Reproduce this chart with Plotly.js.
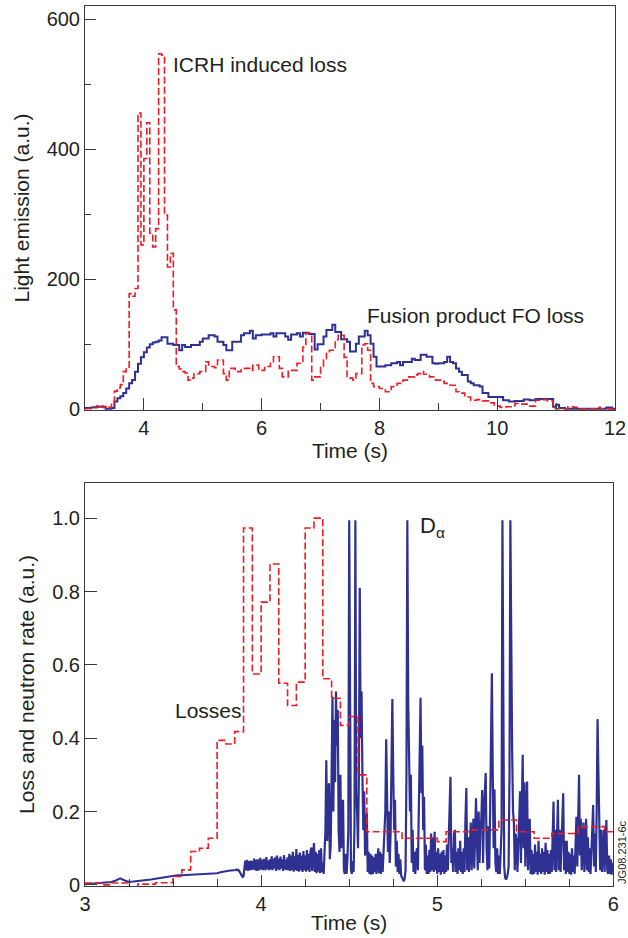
<!DOCTYPE html>
<html>
<head>
<meta charset="utf-8">
<script src="https://cdn.plot.ly/plotly-3.0.1.min.js"></script>
<style>html,body{margin:0;padding:0;background:#fff;}#chart{width:628px;height:938px;}</style>
</head>
<body>
<div id="chart"></div>
<script>
// ---------- top panel: light emission histograms, bins of 0.05 s starting at 3.00 s ----------
const topStart = 3.0;
const topBin = 0.05;
const fusionLoss = [
  2,2,3,3,4,4,4,1,1,2,
  12,17,20,25,32,40,45,58,70,80,
  88,95,100,103,104,106,111,111,101,101,
  99,99,91,99,96,96,99,99,99,104,
  109,109,114,114,112,104,104,99,91,91,
  104,104,104,114,117,117,121,109,114,114,
  115,115,115,117,112,117,117,117,112,107,
  115,115,117,112,118,118,116,116,92,100,
  100,112,122,122,130,119,119,108,108,104,
  89,89,101,112,112,121,114,101,81,66,
  66,66,68,68,71,71,73,68,73,73,
  73,78,76,76,84,84,81,81,71,70,
  71,71,73,81,73,71,63,58,53,53,
  43,40,37,37,35,25,25,19,19,19,
  19,19,14,14,12,12,13,13,13,15,
  15,14,14,16,16,16,16,16,16,4,
  7,2,2,1,1,1,1,1,1,1,
  1,1,1,1,1,1,1,3,3,1,
  1
];
const icrhLoss = [
  1,1,2,4,5,6,3,2,3,10,
  28,33,38,58,62,178,174,186,456,253,
  386,441,271,250,278,547,545,299,219,240,
  153,66,62,58,56,45,48,55,55,58,
  58,73,66,66,64,76,76,55,45,63,
  63,58,58,63,63,63,60,68,68,60,
  60,66,66,71,81,81,63,50,50,60,
  60,60,71,71,96,117,117,45,50,50,
  66,76,86,91,91,107,114,114,80,48,
  48,45,55,55,99,101,91,40,35,35,
  32,32,27,27,35,35,40,40,45,45,
  50,50,53,55,58,54,54,50,50,45,
  45,43,40,40,37,37,27,25,25,19,
  19,14,14,15,15,13,13,10,10,5,
  5,3,3,4,4,4,9,9,8,8,
  8,5,5,14,14,15,15,13,13,2,
  1,1,1,1,4,4,3,3,1,1,
  1,1,1,1,3,1,1,1,0,0,
  0
];
const topYTicks = [0, 200, 400, 600];
const topXTicks = [4, 6, 8, 10, 12];

// ---------- bottom panel ----------
// losses histogram, bins of 0.05 s from 3.00 s
const lossStart = 3.0;
const lossBin = 0.05;
const losses = [
  0.005,0.005,0.0,0.005,0.005,-0.009,0.002,0.002,0.006,0.006,
  0.023,0.041,0.091,0.10,0.127,0.394,0.384,0.418,0.973,0.575,
  0.771,0.875,0.55,0.489,0.553,0.973,1.0,0.562,0.509,0.435,
  0.459,0.30,0.145,0.145,0.145,0.145,0.127,0.127,0.127,0.127,
  0.118,0.145,0.145,0.145,0.15,0.15,0.15,0.177,0.177,0.145,
  0.145,0.127,0.127,0.14,0.14,0.14,0.159,0.159,0.159,0.145,
  0.145
];
// D-alpha: early quiet part sampled every 0.025 s from 3.00 s
const daEarlyStart = 3.0;
const daEarlyStep = 0.025;
const dAlphaEarly = [
  0.002,0.003,0.002,0.004,0.005,0.006,0.008,0.012,0.018,0.012,
  0.008,0.009,0.010,0.012,0.013,0.015,0.017,0.019,0.021,0.023,
  0.025,0.026,0.026,0.027,0.027,0.028,0.028,0.029,0.030,0.031,
  0.032,0.035,0.038,0.039,0.040
];
// D-alpha: bursty part sampled every 0.005 s from 3.85 s
const daLateStart = 3.85;
const daLateStep = 0.005;
const dAlphaLate = [
  .040,.041,.042,.040,.041,.038,.035,.030,.025,.022,.024,.050,.066,.040,.068,.038,.065,.040,.066,.040,
  .065,.042,.072,.040,.068,.038,.070,.045,.040,.074,.042,.068,.040,.071,.045,.040,.076,.043,.066,.040,
  .070,.042,.078,.040,.072,.045,.075,.038,.080,.042,.072,.040,.077,.045,.070,.038,.081,.042,.069,.040,
  .075,.040,.085,.038,.080,.040,.090,.036,.078,.040,.098,.038,.082,.036,.088,.040,.080,.035,.092,.040,
  .080,.036,.095,.040,.085,.035,.090,.102,.038,.090,.114,.035,.090,.032,.085,.036,.095,.032,.100,.035,
  .060,.030,.090,.150,.340,.120,.200,.277,.070,.110,.300,.514,.200,.450,.280,.527,.380,.477,.150,.090,
  .300,.100,.180,.232,.040,.030,.085,.030,.070,.150,.994,.200,.040,.030,.065,.035,.160,.994,.250,.195,
  .100,.300,.810,.400,.527,.300,.150,.255,.080,.120,.195,.035,.090,.030,.085,.028,.080,.030,.075,.035,
  .085,.030,.070,.100,.032,.090,.030,.085,.035,.095,.120,.200,.397,.150,.090,.200,.060,.140,.300,.507,
  .305,.150,.232,.050,.120,.035,.085,.030,.070,.025,.020,.012,.010,.018,.040,.300,.994,.500,.386,.200,
  .300,.060,.150,.035,.090,.030,.085,.100,.040,.200,.350,.510,.250,.380,.150,.240,.040,.110,.030,.080,
  .030,.095,.035,.140,.040,.130,.035,.145,.040,.090,.030,.100,.035,.085,.028,.090,.035,.095,.030,.080,
  .035,.110,.040,.150,.200,.295,.060,.100,.035,.140,.150,.035,.090,.030,.100,.040,.120,.035,.090,.030,
  .100,.035,.180,.264,.040,.130,.035,.110,.170,.040,.140,.180,.045,.150,.236,.120,.040,.200,.060,.150,
  .180,.259,.060,.200,.260,.305,.100,.040,.160,.045,.200,.350,.577,.300,.100,.260,.060,.035,.100,.030,
  .080,.030,.090,.150,.994,.500,.050,.020,.015,.020,.030,.050,.300,.994,.600,.368,.200,.170,.040,.140,
  .120,.035,.100,.180,.255,.060,.200,.355,.100,.280,.050,.200,.282,.040,.090,.180,.030,.095,.028,.085,
  .030,.110,.035,.090,.028,.120,.035,.085,.030,.100,.035,.090,.028,.115,.035,.095,.030,.085,.030,.095,
  .035,.120,.227,.040,.150,.035,.120,.232,.040,.150,.035,.100,.180,.250,.040,.120,.030,.120,.035,.090,
  .030,.085,.028,.100,.035,.080,.030,.110,.186,.050,.150,.300,.080,.180,.040,.140,.170,.035,.120,.180,
  .040,.130,.035,.100,.030,.120,.150,.218,.050,.140,.035,.200,.452,.300,.200,.040,.150,.035,.100,.150,
  .035,.120,.177,.040,.030,.080,.030,.070,.028,.060,.040
];
const botYTicks = [0, 0.2, 0.4, 0.6, 0.8, 1.0];
const botYLabels = ['0', '0.2', '0.4', '0.6', '0.8', '1.0'];
const botXTicks = [3, 4, 5, 6];

const RED = '#ed1c24';
const BLUE = '#2e3192';
const TXT = '#231f20';
const AX = '#3a3a3a';
const FONT = 'Liberation Sans, Arial, Helvetica, sans-serif';

const traces = [
  {x0: topStart, dx: topBin, y: fusionLoss, type: 'scatter', mode: 'lines',
   line: {shape: 'hv', color: BLUE, width: 2}, xaxis: 'x', yaxis: 'y', hoverinfo: 'skip'},
  {x0: topStart, dx: topBin, y: icrhLoss, type: 'scatter', mode: 'lines',
   line: {shape: 'hv', color: RED, width: 1.6, dash: '7px,3px'}, xaxis: 'x', yaxis: 'y', hoverinfo: 'skip'},
  {x0: daEarlyStart, dx: daEarlyStep, y: dAlphaEarly, type: 'scatter', mode: 'lines',
   line: {color: BLUE, width: 2}, xaxis: 'x2', yaxis: 'y2', hoverinfo: 'skip'},
  {x0: daLateStart, dx: daLateStep, y: dAlphaLate, type: 'scatter', mode: 'lines',
   line: {color: BLUE, width: 2.2}, xaxis: 'x2', yaxis: 'y2', hoverinfo: 'skip'},
  {x0: lossStart, dx: lossBin, y: losses, type: 'scatter', mode: 'lines',
   line: {shape: 'hv', color: RED, width: 1.6, dash: '7px,3px'}, xaxis: 'x2', yaxis: 'y2', hoverinfo: 'skip'}
];

const axisCommon = {
  showgrid: false, zeroline: false, showline: true, mirror: true,
  linecolor: AX, linewidth: 1, ticks: 'inside', tickcolor: AX, tickwidth: 1,
  tickfont: {family: FONT, size: 20, color: TXT}
};

const layout = {
  width: 628, height: 938,
  margin: {l: 85, r: 13, t: 6, b: 52},
  paper_bgcolor: '#fff', plot_bgcolor: '#fff',
  showlegend: false,
  font: {family: FONT, color: TXT},
  xaxis: Object.assign({}, axisCommon, {
    domain: [0, 1], anchor: 'y', range: [3, 12],
    tickvals: topXTicks, ticklen: 12,
    minor: {dtick: 1, tick0: 3, ticks: 'inside', ticklen: 7, tickcolor: AX, tickwidth: 1},
    title: {text: 'Time (s)', font: {family: FONT, size: 21, color: TXT}, standoff: 2}
  }),
  yaxis: Object.assign({}, axisCommon, {
    domain: [0.5409, 1], anchor: 'x', range: [-1, 620.5],
    tickvals: topYTicks, ticklen: 11,
    minor: {dtick: 100, tick0: 0, ticks: 'inside', ticklen: 6, tickcolor: AX, tickwidth: 1},
    title: {text: 'Light emission (a.u.)', font: {family: FONT, size: 21, color: TXT}, standoff: 11}
  }),
  xaxis2: Object.assign({}, axisCommon, {
    domain: [0, 0.997], anchor: 'y2', range: [3, 6],
    tickvals: botXTicks, ticklen: 11,
    minor: {dtick: 0.25, tick0: 3, ticks: 'inside', ticklen: 7, tickcolor: AX, tickwidth: 1},
    title: {text: 'Time (s)', font: {family: FONT, size: 21, color: TXT}, standoff: 1}
  }),
  yaxis2: Object.assign({}, axisCommon, {
    domain: [0, 0.458], anchor: 'x2', range: [-0.003, 1.096],
    tickvals: botYTicks, ticktext: botYLabels, ticklen: 12,
    title: {text: 'Loss and neutron rate (a.u.)', font: {family: FONT, size: 21, color: TXT}, standoff: 11}
  }),
  annotations: [
    {xref: 'x', yref: 'y', x: 4.46, y: 530, text: 'ICRH induced loss', showarrow: false,
     xanchor: 'left', yanchor: 'middle', font: {family: FONT, size: 21, color: TXT}},
    {xref: 'x', yref: 'y', x: 7.76, y: 145, text: 'Fusion product FO loss', showarrow: false,
     xanchor: 'left', yanchor: 'middle', font: {family: FONT, size: 21, color: TXT}},
    {xref: 'x2', yref: 'y2', x: 3.50, y: 0.475, text: 'Losses', showarrow: false,
     xanchor: 'left', yanchor: 'middle', font: {family: FONT, size: 21, color: TXT}},
    {xref: 'x2', yref: 'y2', x: 4.893, y: 0.975, text: 'D<sub>α</sub>', showarrow: false,
     xanchor: 'left', yanchor: 'middle', font: {family: FONT, size: 22, color: TXT}},
    {xref: 'paper', yref: 'paper', x: 1.013, y: 0.0386, text: 'JG08.231-6c', showarrow: false,
     textangle: -90, xanchor: 'center', yanchor: 'middle', font: {family: FONT, size: 11, color: TXT}}
  ]
};

Plotly.newPlot('chart', traces, layout, {staticPlot: true, displayModeBar: false});
</script>
</body>
</html>
